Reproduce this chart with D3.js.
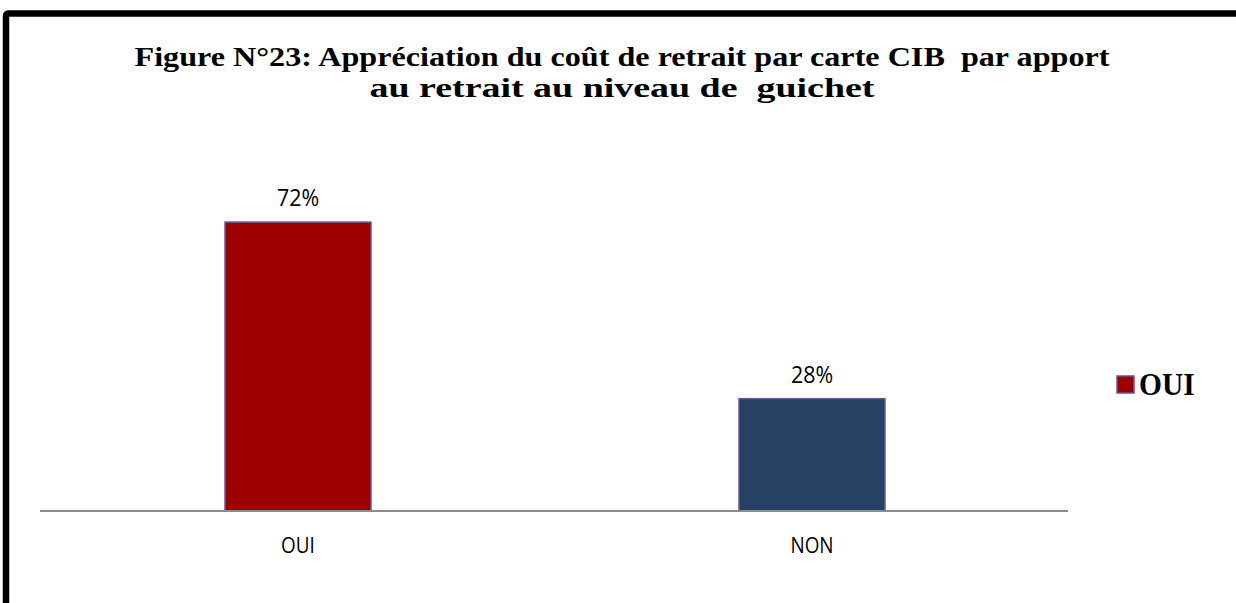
<!DOCTYPE html>
<html>
<head>
<meta charset="utf-8">
<script src="https://cdn.jsdelivr.net/npm/d3@7"></script>
<style>
  html, body { margin: 0; padding: 0; background: #fff; }
  svg { display: block; }
</style>
</head>
<body>
<svg id="chart" width="1236" height="603"></svg>
<script>
const categories = ["OUI", "NON"];
const values = [0.72, 0.28];
const valueLabels = ["72%", "28%"];
const barColors = ["#9E0000", "#254264"];
const titleLines = [
  "Figure N°23: Appréciation du coût de retrait par carte CIB  par apport",
  "au retrait au niveau de  guichet"
];
const legendLabels = ["OUI"];

const svg = d3.select("#chart");

// outer frame
svg.append("rect")
  .attr("x", 6).attr("y", 13.5).attr("width", 1400).attr("height", 800)
  .attr("rx", 2)
  .attr("fill", "none").attr("stroke", "#000").attr("stroke-width", 6.5);

// horizontal condensing helper (reference text is horizontally compressed)
function condense(sel, k) {
  sel.each(function () {
    const w = this.getComputedTextLength();
    d3.select(this).attr("textLength", w * k).attr("lengthAdjust", "spacingAndGlyphs");
  });
}

// title
const titleWidths = [975, 505];
const titleY = [66, 97];
svg.selectAll("text.title").data(titleLines).enter().append("text")
  .attr("class", "title")
  .attr("x", 622).attr("y", (d, i) => titleY[i])
  .attr("text-anchor", "middle")
  .attr("font-family", "'Liberation Serif', 'Times New Roman', serif")
  .attr("font-weight", "bold")
  .attr("font-size", 28)
  .attr("textLength", (d, i) => titleWidths[i])
  .attr("lengthAdjust", "spacingAndGlyphs")
  .style("white-space", "pre")
  .text(d => d);

const x = d3.scaleBand().domain(categories).range([41, 1069])
  .paddingInner(0.716).paddingOuter(0.358);
const y = d3.scaleLinear().domain([0, 0.8]).range([511, 190]);

// bars
svg.selectAll("rect.bar").data(values).enter().append("rect")
  .attr("class", "bar")
  .attr("x", (d, i) => x(categories[i]))
  .attr("y", d => y(d))
  .attr("width", x.bandwidth())
  .attr("height", d => y(0) - y(d))
  .attr("fill", (d, i) => barColors[i])
  .attr("stroke", "#6A5590")
  .attr("stroke-width", 1.5);

// axis
const axis = d3.axisBottom(x).tickSize(0).tickPadding(27);
const gx = svg.append("g").attr("transform", `translate(0,${y(0)})`).call(axis);
gx.select(".domain").attr("stroke", "#8C8C8C").attr("stroke-width", 2)
  .attr("d", "M40,0H1068");
gx.selectAll(".tick text")
  .attr("font-family", "'Open Sans', 'Liberation Sans', sans-serif")
  .attr("font-size", 21)
  .attr("fill", "#000")
  .call(condense, 0.9);

// value labels
svg.selectAll("text.vlabel").data(values).enter().append("text")
  .attr("class", "vlabel")
  .attr("x", (d, i) => x(categories[i]) + x.bandwidth() / 2)
  .attr("y", d => y(d) - 16)
  .attr("text-anchor", "middle")
  .attr("font-family", "'Open Sans', 'Liberation Sans', sans-serif")
  .attr("font-size", 23)
  .attr("fill", "#000")
  .text((d, i) => valueLabels[i])
  .call(condense, 0.93);

// legend
const lg = svg.append("g").attr("transform", "translate(1117,376)");
lg.selectAll("rect").data(legendLabels).enter().append("rect")
  .attr("x", 0).attr("y", 0).attr("width", 17).attr("height", 17)
  .attr("fill", barColors[0]).attr("stroke", "#6A5590").attr("stroke-width", 1.5);
lg.selectAll("text").data(legendLabels).enter().append("text")
  .attr("x", 22).attr("y", 19)
  .attr("font-family", "'Liberation Serif', 'Times New Roman', serif")
  .attr("font-weight", "bold")
  .attr("font-size", 31)
  .attr("fill", "#000")
  .text(d => d)
  .call(condense, 0.95);
</script>
</body>
</html>
